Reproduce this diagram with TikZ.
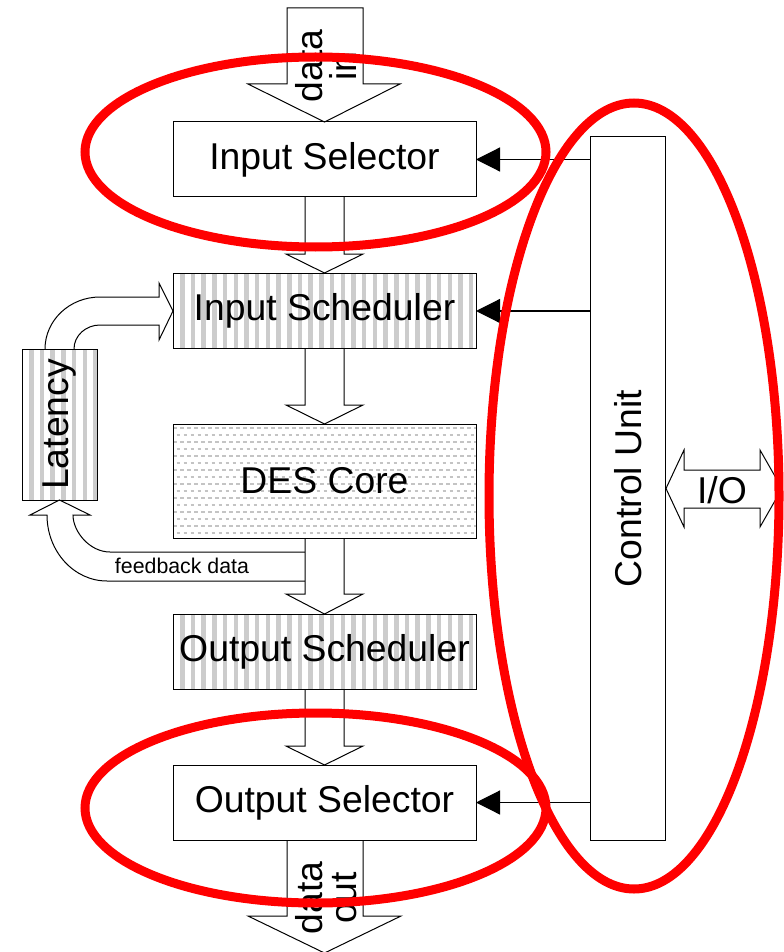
\documentclass[tikz,border=0pt]{standalone}
\usepackage{fontspec}
\setmainfont{Liberation Sans}
\usetikzlibrary{arrows.meta}
\definecolor{stripegray}{HTML}{CCCCCC}
\definecolor{dotgray}{HTML}{C4C4C4}
\definecolor{ringred}{HTML}{FF0000}

% vertical stripe fill inside a rectangle: x1 y1 x2 y2
\newcommand\stripefill[4]{%
  \begin{scope}
    \clip (#1,#2) rectangle (#3,#4);
    \foreach \s in {0,...,30}
      \fill[stripegray] ({#1+7+\s*10.7},#2) rectangle ({#1+11.5+\s*10.7},#4);
  \end{scope}}

% block arrow pointing down between two stacked boxes
\newcommand\blockdown[3]{%
  \draw[barrow] (305,#1) -- (305,#2) -- (286,#2) -- (324.5,#3) -- (363,#2) -- (344,#2) -- (344,#1);}

\begin{document}
\begin{tikzpicture}[x=0.75pt,y=-0.75pt,
  box/.style={draw=black, line width=0.75pt, inner sep=0pt, outer sep=0pt,
    font=\fontsize{28}{30}\selectfont},
  stagebox/.style={box, minimum width=227.25pt, minimum height=56.25pt},
  barrow/.style={draw=black, fill=white, line width=0.75pt, line join=miter},
  ctrl/.style={draw=black, line width=0.9pt, -{Triangle[length=18pt,width=18pt]}},
  ring/.style={draw=ringred, line width=6.75pt},
  biglabel/.style={font=\fontsize{28}{25}\selectfont, align=center, inner sep=0pt}]

\useasboundingbox (0,0) rectangle (783,952);
\fill[white] (0,0) rectangle (783,952);

% incoming and outgoing data arrows
\draw[barrow] (287,8) -- (363,8) -- (363,84) -- (400,84) -- (324.5,122) -- (248,84) -- (287,84) -- cycle;
\draw[barrow] (287,840) -- (287,916) -- (248,916) -- (324.5,953) -- (401,916) -- (363,916) -- (363,840);

% arrows between the pipeline stages
\blockdown{197}{254}{273}
\blockdown{349}{405}{424}

% feedback path from the core back to the latency stage
\draw[barrow] (306,552) -- (110,552) .. controls (89.6,552) and (73,531.6) .. (73,515)
  -- (90,515) -- (59.5,500) -- (30,515) -- (47,515)
  .. controls (47,551.4) and (73.9,581) .. (107,581) -- (306,581);
\blockdown{538}{594}{614}
\blockdown{689}{746}{765}

% latency output back into the input scheduler
\draw[barrow] (45,349) .. controls (45,320.3) and (69.6,297) .. (100,297) -- (159,297)
  -- (159,283) -- (173,311) -- (159,340) -- (159,325) -- (100,325)
  .. controls (85.6,325) and (74,335.8) .. (74,349);

% patterned fills
\stripefill{173}{273}{476}{349}
\stripefill{173}{614}{476}{689}
\stripefill{22}{349}{97}{500}
\begin{scope}
  \clip (173,424) rectangle (476,538);
  \foreach \r in {0,...,16} {
    \pgfmathsetmacro\yy{428+\r*7}
    \pgfmathsetmacro\ph{mod(\r,2)*2.625}
    \draw[dotgray, line width=1.3pt, dash pattern=on 2.8pt off 2.45pt, dash phase=\ph pt]
      (173,\yy) -- (476,\yy);
  }
\end{scope}

% stages
\node[stagebox] (isel) at (324.5,159.5) {Input Selector};
\node[stagebox] (isch) at (324.5,311) {Input Scheduler};
\node[stagebox, minimum height=85.5pt] (core) at (324.5,481) {DES Core};
\node[stagebox] (osch) at (324.5,651.5) {Output Scheduler};
\node[stagebox] (osel) at (324.5,802.5) {Output Selector};
\node[box, rotate=90, minimum width=113.25pt, minimum height=56.25pt] (lat) at (59.5,424.5) {Latency};
\node[box, rotate=90, minimum width=527.25pt, minimum height=56.25pt] (cu) at (628,488.5) {Control Unit};

% labels on the data arrows
\node[biglabel, rotate=90] (din) at (326,66) {data\\in};
\node[biglabel, rotate=90] (dout) at (326,898) {data\\out};
\node[font=\fontsize{16}{18}\selectfont, inner sep=0pt] (fb) at (182,566) {feedback data};

% I/O port of the control unit
\draw[barrow] (666,488.5) -- (684,450) -- (684,470) -- (760,470) -- (760,450) -- (782,488.5)
  -- (760,527) -- (760,508) -- (684,508) -- (684,527) -- cycle;
\node[font=\fontsize{28}{30}\selectfont, inner sep=0pt] (io) at (722,490) {I/O};

% control lines
\draw[ctrl] (cu.north |- isel.east) -- (isel.east);
\draw[ctrl] (cu.north |- isch.east) -- (isch.east);
\draw[ctrl] (cu.north |- osel.east) -- (osel.east);

% highlight rings
\draw[ring] (315.5,152) ellipse [x radius=230.5, y radius=95];
\draw[ring] (315.5,808) ellipse [x radius=230.5, y radius=95];
\draw[ring] (634,496) ellipse [x radius=145, y radius=393];
\end{tikzpicture}
\end{document}
